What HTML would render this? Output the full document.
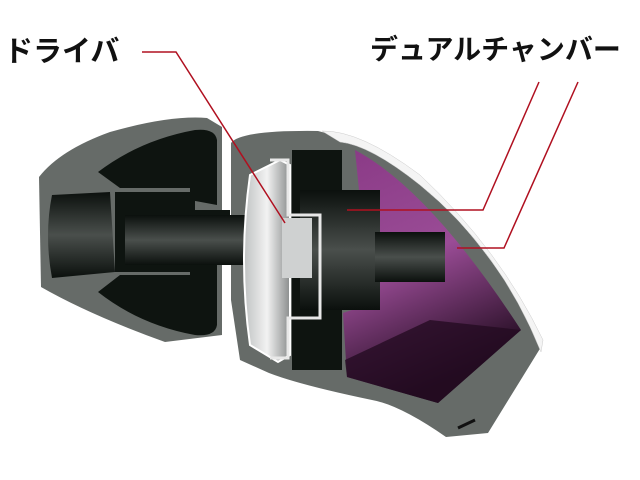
<!DOCTYPE html>
<html><head><meta charset="utf-8"><style>
html,body{margin:0;padding:0;background:#fff;width:640px;height:480px;overflow:hidden}
.t{position:absolute;font-family:"Liberation Sans","Noto Sans CJK JP",sans-serif;font-weight:bold;font-size:29px;color:#111;white-space:nowrap;letter-spacing:0px}
</style></head><body>
<div class="t" style="left:4px;top:28px">ドライバ</div>
<div class="t" style="left:370px;top:28px;font-size:28px">デュアルチャンバー</div>
<svg width="640" height="480" style="position:absolute;left:0;top:0">
<defs>
<linearGradient id="pg" x1="0" y1="0" x2="0.3" y2="1">
<stop offset="0" stop-color="#8a3a86"/><stop offset="0.5" stop-color="#9a4c96"/><stop offset="1" stop-color="#1e0a1c"/></linearGradient>
<linearGradient id="sg" x1="0" y1="0" x2="1" y2="0">
<stop offset="0" stop-color="#bfc2c2"/><stop offset="0.5" stop-color="#f2f2f2"/><stop offset="1" stop-color="#8a8d8d"/></linearGradient>
<linearGradient id="bg" x1="0" y1="0" x2="0" y2="1">
<stop offset="0" stop-color="#0b100d"/><stop offset="0.5" stop-color="#4a4f4c"/><stop offset="1" stop-color="#0b100d"/></linearGradient>
</defs>
<!-- eartip -->
<path d="M39,177 Q60,150 110,132 Q170,115 207,118 L222,127 L222,335 L165,342 Q90,315 41,287 Z" fill="#666b68"/>
<path d="M98,172 Q140,140 195,130 Q215,128 217,140 L217,205 L190,200 L190,188 L120,188 Z" fill="#0e1410"/>
<path d="M98,292 Q140,325 195,335 Q215,337 217,325 L217,262 L190,265 L190,275 L120,275 Z" fill="#0e1410"/>
<path d="M52,195 L110,192 L115,272 L52,278 Q44,235 52,195Z" fill="url(#bg)"/>
<!-- body -->
<path d="M231,143 Q240,130 318,131 Q440,160 537,333 L541,347 L488,433 L446,437 Q400,405 372,400 Q300,385 269,373 L240,360 L231,300 Z" fill="#666b68"/>
<!-- white shell -->
<path d="M322,131 Q360,130 420,175 Q500,250 543,340 L541,352 Q500,250 420,185 Q370,145 340,142 Z" fill="#f4f4f4" stroke="#ccc" stroke-width="0.5"/>
<!-- purple -->
<path d="M355,150 Q430,190 521,330 L438,403 L347,377 L343,313 L380,300 L380,250 L360,200 Z" fill="url(#pg)"/>
<path d="M345,360 L430,320 L521,330 L438,403 L347,377Z" fill="#240b22" opacity="0.8"/>
<!-- inner black structures -->
<path d="M115,192 L195,192 L195,210 L230,210 L230,255 L195,255 L195,272 L115,272 Z" fill="#0e1410"/>
<path d="M125,215 L245,215 L245,265 L125,265 Z" fill="url(#bg)"/>
<rect x="292" y="150" width="50" height="220" fill="#0e1410"/>
<rect x="300" y="190" width="80" height="120" fill="url(#bg)"/>
<rect x="375" y="232" width="70" height="50" fill="url(#bg)"/>
<!-- driver -->
<path d="M250,175 L280,160 L290,165 L290,355 L278,362 L250,345 Q238,260 250,175Z" fill="url(#sg)" stroke="#fff" stroke-width="2"/>
<rect x="282" y="218" width="30" height="60" fill="#cfd1d1"/>
<path d="M270,160 L288,160 L288,215 L320,215 L320,318 L288,318 L288,358 L270,358" fill="none" stroke="#e8e8e8" stroke-width="3"/>
<path d="M475,420 L458,428" stroke="#111" stroke-width="3"/>
<!-- leader lines -->
<g fill="none" stroke="#b01020" stroke-width="1.5">
<polyline points="142,52 176,52 285,223"/>
<polyline points="539,82 483,210 347,210"/>
<polyline points="578,82 504,248 457,248"/>
</g>
</svg>
</body></html>
